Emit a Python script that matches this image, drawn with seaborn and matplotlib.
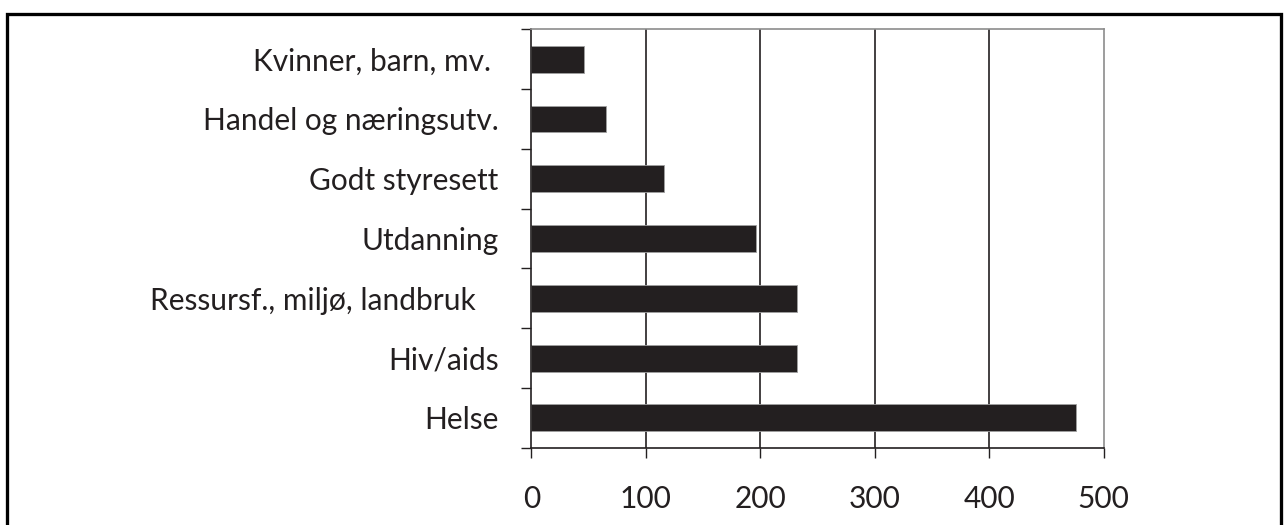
import numpy as np
import pandas as pd
import matplotlib
matplotlib.use("Agg")
import matplotlib.pyplot as plt
import seaborn as sns
from matplotlib.patches import Rectangle

categories = ["Kvinner, barn, mv. ", "Handel og næringsutv.", "Godt styresett",
              "Utdanning", "Ressursf., miljø, landbruk   ", "Hiv/aids", "Helse"]
values = [46, 65, 116, 196, 232, 232, 476]
xticks = [0, 100, 200, 300, 400, 500]

sns.set_theme(style="white")
plt.rcParams['font.family'] = ['Lato', 'DejaVu Sans']

df = pd.DataFrame({"kategori": categories, "verdi": values})

fig = plt.figure(figsize=(12.84, 5.25), dpi=100)
ax = fig.add_axes([0.4139, 0.1472, 0.4457, 0.797])

sns.barplot(data=df, x="verdi", y="kategori", orient="h", color="#231f20",
            width=0.45, saturation=1, edgecolor="#a0a0a0", linewidth=0.6, ax=ax)

ax.set_xlim(0, 500)
ax.set_ylim(6.5, -0.5)
ax.set_xlabel("")
ax.set_ylabel("")

dark = "#231f20"
ax.set_xticks(xticks)
ax.set_xticklabels([str(t) for t in xticks])
ax.tick_params(axis="x", direction="out", length=9.6*0.72, width=1.0, color=dark,
               pad=20, labelsize=21.5, labelcolor=dark, bottom=True)

ax.set_yticks(np.arange(-0.5, 7.0, 1.0))
ax.set_yticklabels([])
ax.set_yticks(np.arange(len(categories)), minor=True)
ax.set_yticklabels(categories, minor=True)
ax.tick_params(axis="y", which="major", direction="out", length=7.2, width=1.0,
               color=dark, left=True)
ax.tick_params(axis="y", which="minor", length=0, pad=23*0.72 + 7.2,
               labelsize=21.5, labelcolor=dark)

ax.grid(axis="x", color=dark, linewidth=1.2)
ax.grid(axis="y", visible=False)
gl = ax.get_xgridlines()
gl[0].set_visible(False)
gl[-1].set_visible(False)
ax.set_axisbelow(True)

for s in ["left", "bottom"]:
    ax.spines[s].set_color(dark)
    ax.spines[s].set_linewidth(1.2)
for s in ["top", "right"]:
    ax.spines[s].set_color("#8c8c8c")
    ax.spines[s].set_linewidth(1.2)
    ax.spines[s].set_visible(True)

W, H = 1284, 525
frame = Rectangle((7.0 / W, -0.1), (1281.0 - 7.0) / W, (H - 13.6) / H + 0.1,
                  transform=fig.transFigure, fill=False, edgecolor="black",
                  linewidth=3.3 * 0.72, clip_on=False)
fig.add_artist(frame)

fig.savefig("out.png", dpi=100)
